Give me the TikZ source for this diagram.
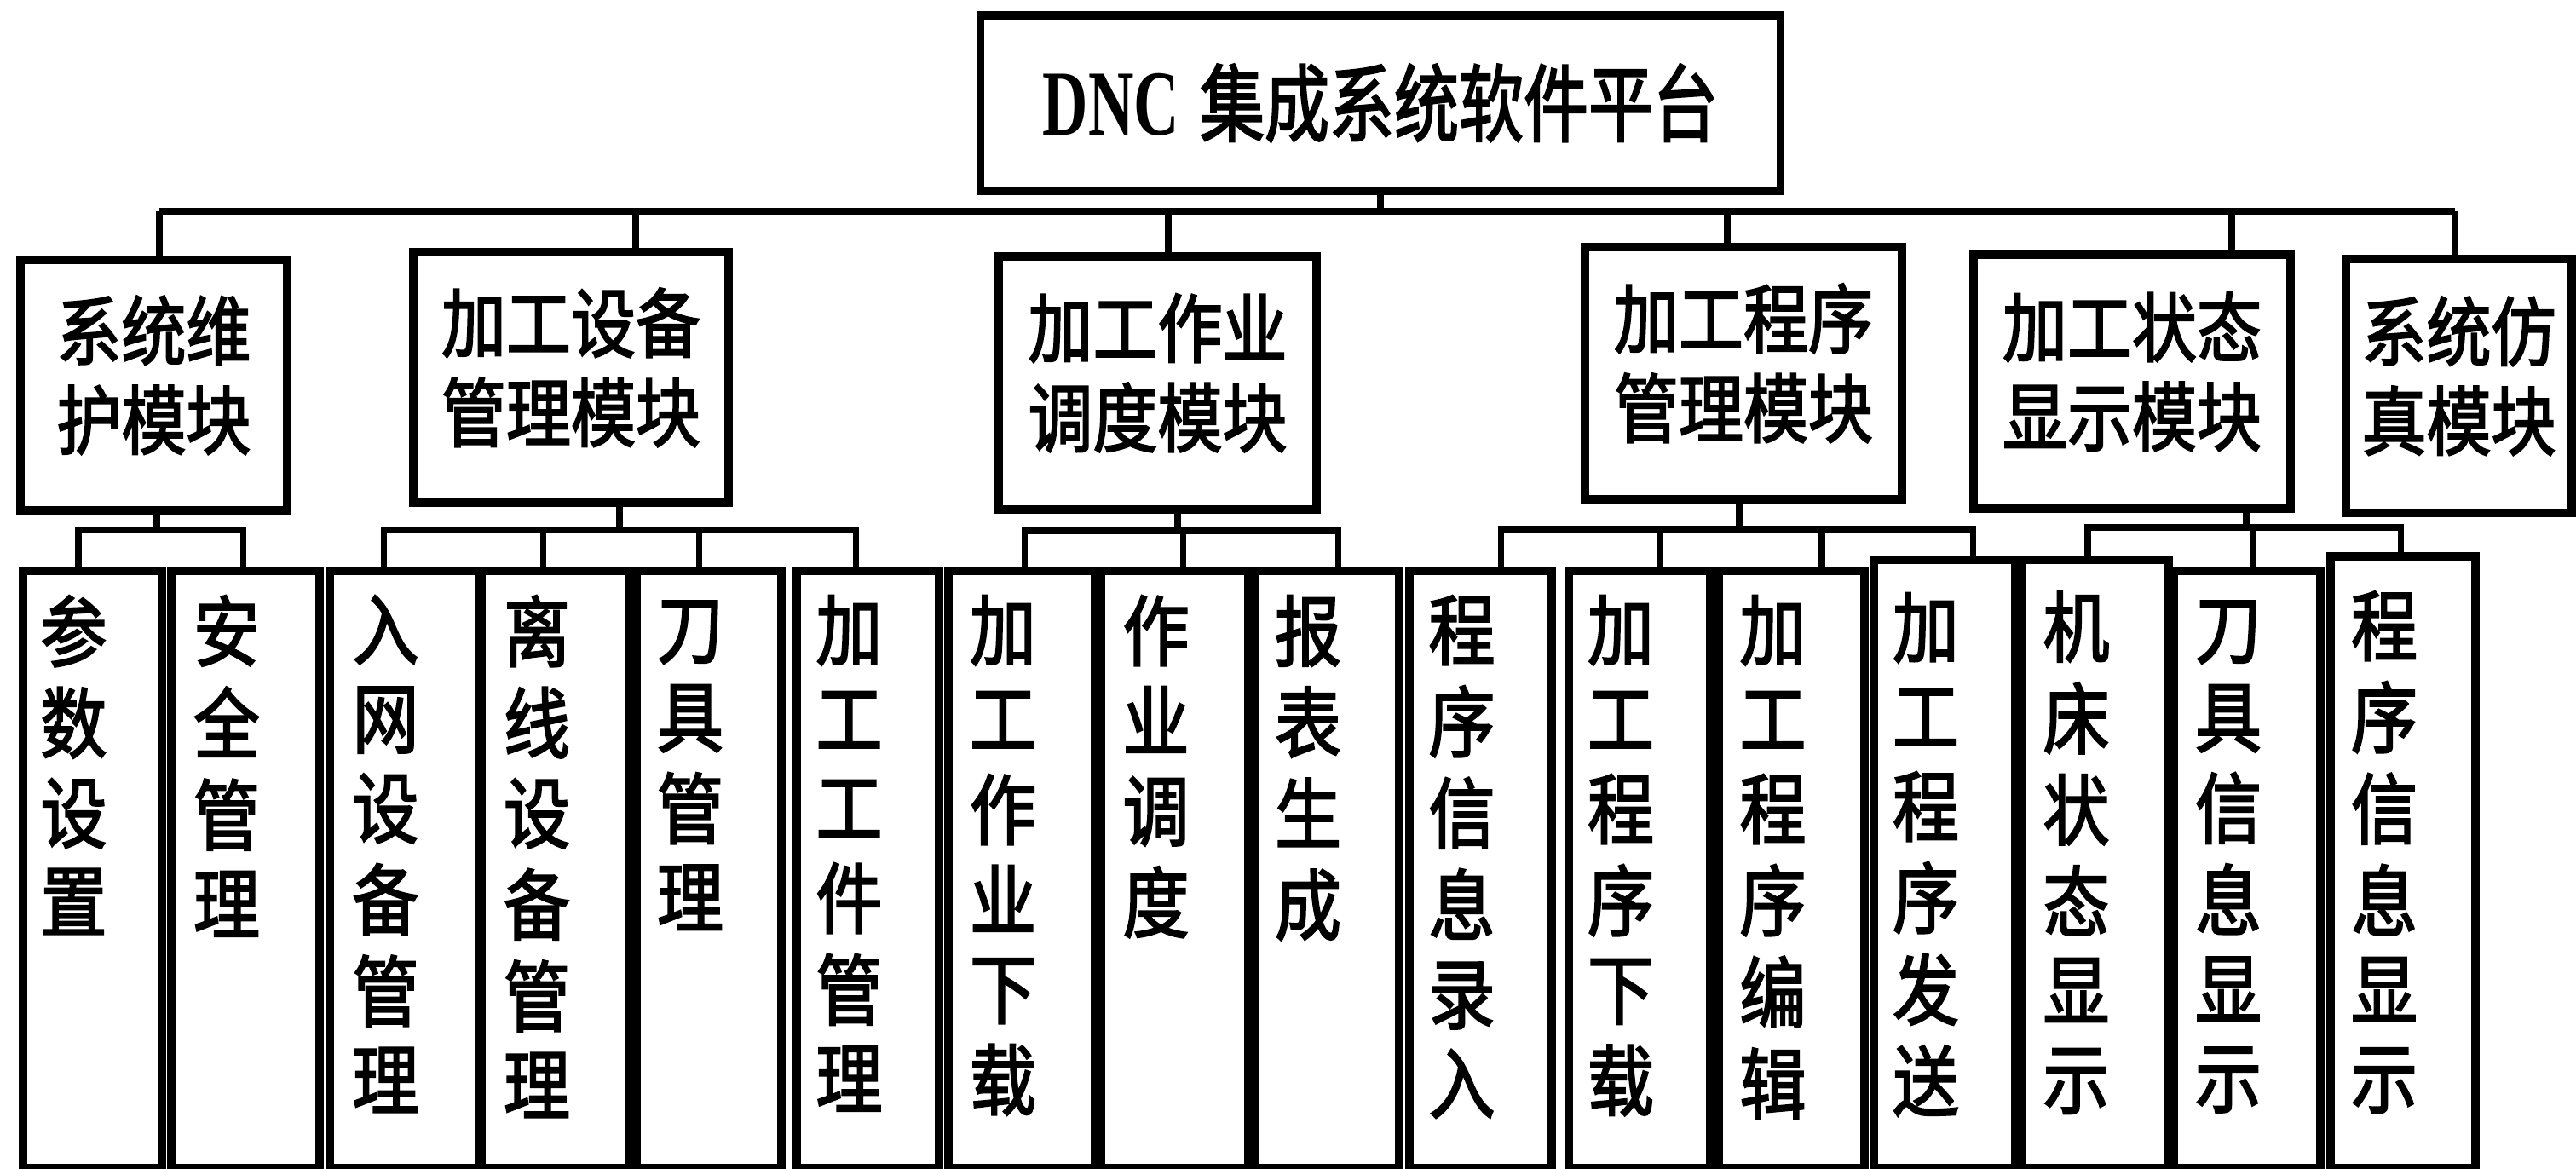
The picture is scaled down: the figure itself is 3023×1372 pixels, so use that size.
\documentclass[tikz,border=0pt]{standalone}
\usepackage{fontspec}
\usepackage{graphicx}
\setmainfont{Liberation Serif}
\newfontfamily\cjk[FakeBold=2.5]{Noto Sans CJK SC}
\newcommand\vcol[1]{\scalebox{1}[1.16]{\cjk\fontsize{19.5}{22.4}\selectfont\begin{tabular}{@{}c@{}}#1\end{tabular}}}
\newcommand\mtext[1]{\scalebox{1}[1.16]{\cjk\fontsize{19}{22}\selectfont\begin{tabular}{@{}c@{}}#1\end{tabular}}}
\newcommand\toptext{\scalebox{0.88}[1.3]{\bfseries\fontsize{21}{25}\selectfont DNC}\hspace{6pt}\scalebox{1}[1.3]{\fontsize{19}{25}\selectfont\cjk 集成系统软件平台}}
\begin{document}
\begin{tikzpicture}[x=0.25pt,y=-0.25pt,
  bx/.style={draw, line width=2.4pt, inner sep=0pt, rectangle},
  sz/.style 2 args={minimum width=#1*0.25pt, minimum height=#2*0.25pt},
  lf/.style={bx, anchor=north west},
  lt/.style={anchor=north, inner sep=0pt},
  ln/.style={line width=1.8pt}]
\useasboundingbox (0,0) rectangle (3023,1372);
\fill[white] (0,0) rectangle (3023,1372);

% top
\node[bx, sz={939}{206}] (top) at (1620,121) {\toptext};

% modules
\node[bx, sz={313}{294}] (m1) at (180.5,452) {\mtext{系统维\\护模块}};
\node[bx, sz={370}{294}] (m2) at (670,443) {\mtext{加工设备\\管理模块}};
\node[bx, sz={373}{297}] (m3) at (1358.5,449.5) {\mtext{加工作业\\调度模块}};
\node[bx, sz={372}{296}] (m4) at (2046,438) {\mtext{加工程序\\管理模块}};
\node[bx, sz={372}{298}] (m5) at (2502,448) {\mtext{加工状态\\显示模块}};
\node[bx, sz={265}{298}] (m6) at (2885.5,453) {\mtext{系统仿\\真模块}};

% leaves
\node[lf, sz={163}{701}] (l1) at (22,665) {};
\node[lf, sz={174}{701}] (l2) at (196,665) {};
\node[lf, sz={175}{701}] (l3) at (382,665) {};
\node[lf, sz={174}{701}] (l4) at (560,665) {};
\node[lf, sz={170}{701}] (l5) at (742,665) {};
\node[lf, sz={167}{701}] (l6) at (930,665) {};
\node[lf, sz={172}{701}] (l7) at (1108,665) {};
\node[lf, sz={173}{701}] (l8) at (1287,665) {};
\node[lf, sz={170}{701}] (l9) at (1467,665) {};
\node[lf, sz={167}{701}] (l10) at (1649,665) {};
\node[lf, sz={166}{701}] (l11) at (1836,665) {};
\node[lf, sz={171}{701}] (l12) at (2012,665) {};
\node[lf, sz={166}{714}] (l13) at (2194,652) {};
\node[lf, sz={173}{714}] (l14) at (2367,652) {};
\node[lf, sz={172}{701}] (l15) at (2546,665) {};
\node[lf, sz={170}{718}] (l16) at (2730,648) {};

% leaf texts
\node[lt] (t1) at (86.5,698) {\vcol{参\\数\\设\\置}};
\node[lt] (t2) at (266,698) {\vcol{安\\全\\管\\理}};
\node[lt] (t3) at (452.5,698) {\vcol{入\\网\\设\\备\\管\\理}};
\node[lt] (t4) at (630,698) {\vcol{离\\线\\设\\备\\管\\理}};
\node[lt] (t5) at (810,698) {\vcol{刀\\具\\管\\理}};
\node[lt] (t6) at (996.5,698) {\vcol{加\\工\\工\\件\\管\\理}};
\node[lt] (t7) at (1177,698) {\vcol{加\\工\\作\\业\\下\\载}};
\node[lt] (t8) at (1356.5,698) {\vcol{作\\业\\调\\度}};
\node[lt] (t9) at (1535,698) {\vcol{报\\表\\生\\成}};
\node[lt] (t10) at (1715.5,698) {\vcol{程\\序\\信\\息\\录\\入}};
\node[lt] (t11) at (1902,698) {\vcol{加\\工\\程\\序\\下\\载}};
\node[lt] (t12) at (2080.5,698) {\vcol{加\\工\\程\\序\\编\\辑}};
\node[lt] (t13) at (2260,695) {\vcol{加\\工\\程\\序\\发\\送}};
\node[lt] (t14) at (2436.5,693) {\vcol{机\\床\\状\\态\\显\\示}};
\node[lt] (t15) at (2615,698) {\vcol{刀\\具\\信\\息\\显\\示}};
\node[lt] (t16) at (2798,693) {\vcol{程\\序\\信\\息\\显\\示}};

% main bus
\coordinate (busL) at (187,248);
\coordinate (busR) at (2881,248);
\draw[ln] (busL) -- (busR);
\draw[ln] (top.south) -- (top.south |- busL);
\coordinate (u2) at ([xshift=19pt]m2.north);
\coordinate (u3) at ([xshift=3.1pt]m3.north);
\coordinate (u4) at ([xshift=-4.75pt]m4.north);
\coordinate (u5) at ([xshift=29.25pt]m5.north);
\draw[ln] (busL) -- (busL |- m1.north);
\draw[ln] (u2) -- (u2 |- busL);
\draw[ln] (u3) -- (u3 |- busL);
\draw[ln] (u4) -- (u4 |- busL);
\draw[ln] (u5) -- (u5 |- busL);
\draw[ln] (busR) -- (busR |- m6.north);

% drop points on leaves
\coordinate (d1) at ([xshift=-4.1pt]l1.north);
\coordinate (d2) at ([xshift=-0.5pt]l2.north);
\coordinate (d3) at ([xshift=-5.9pt]l3.north);
\coordinate (d4) at ([xshift=-3.5pt]l4.north);
\coordinate (d5) at ([xshift=-2.75pt]l5.north);
\coordinate (d6) at ([xshift=-3.4pt]l6.north);
\coordinate (d7) at ([xshift=1pt]l7.north);
\coordinate (d8) at ([xshift=2.6pt]l8.north);
\coordinate (d9) at ([xshift=3.5pt]l9.north);
\coordinate (d10) at ([xshift=6.1pt]l10.north);
\coordinate (d11) at ([xshift=6.25pt]l11.north);
\coordinate (d12) at ([xshift=8.9pt]l12.north);
\coordinate (d13) at ([xshift=8.5pt]l13.north);
\coordinate (d14) at ([xshift=-2.1pt]l14.north);
\coordinate (d15) at ([xshift=1.75pt]l15.north);
\coordinate (d16) at ([xshift=-0.5pt]l16.north);

% junctions
\coordinate (j1) at (184,622);
\coordinate (j2) at (727,622);
\coordinate (j3) at (1382,623);
\coordinate (j4) at (2041,621);
\coordinate (j5) at (2636,619);

\draw[ln] (j1 |- m1.south) -- (j1);
\draw[ln] (d1) |- (j1) -| (d2);

\draw[ln] (j2 |- m2.south) -- (j2);
\draw[ln] (d3) |- (j2) -| (d6);
\draw[ln] (d4) -- (d4 |- j2);
\draw[ln] (d5) -- (d5 |- j2);

\draw[ln] (j3 |- m3.south) -- (j3);
\draw[ln] (d7) |- (j3) -| (d9);
\draw[ln] (d8) -- (d8 |- j3);

\draw[ln] (j4 |- m4.south) -- (j4);
\draw[ln] (d10) |- (j4) -| (d13);
\draw[ln] (d11) -- (d11 |- j4);
\draw[ln] (d12) -- (d12 |- j4);

\draw[ln] (j5 |- m5.south) -- (j5);
\draw[ln] (d14) |- (j5) -| (d16);
\draw[ln] (d15) -- (d15 |- j5);
\end{tikzpicture}
\end{document}
